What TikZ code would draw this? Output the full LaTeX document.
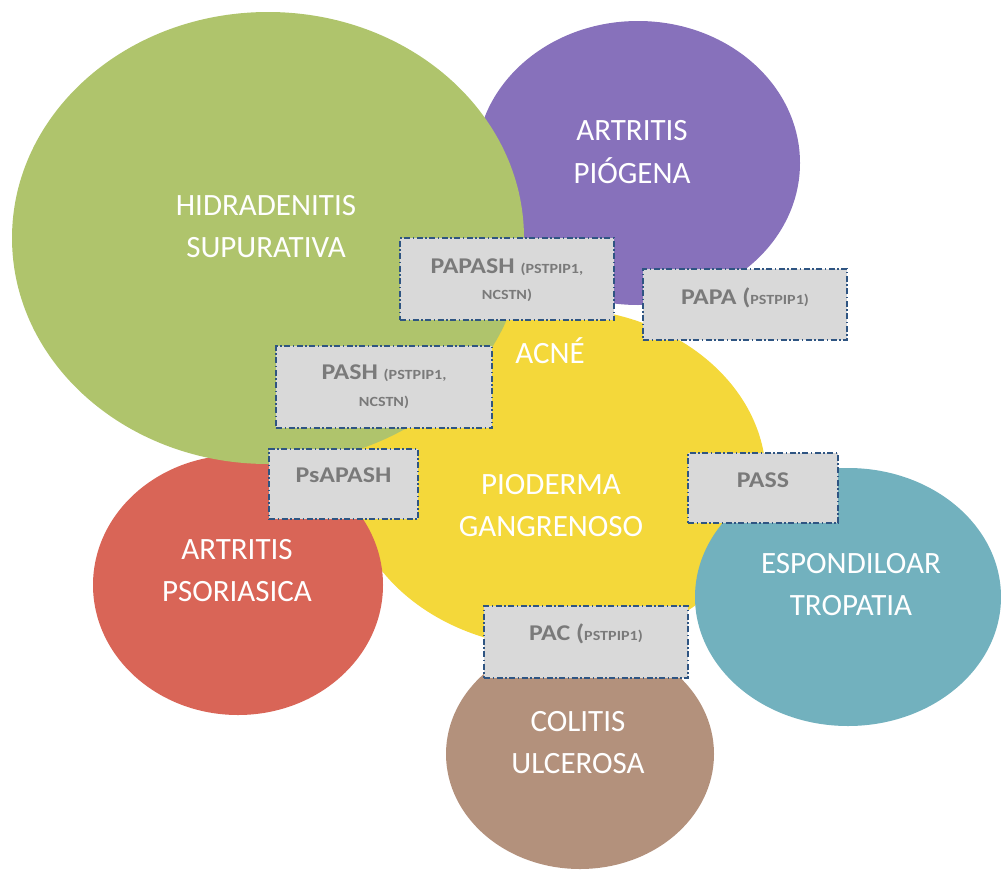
\documentclass[tikz,border=0pt]{standalone}
\usepackage{fontspec}
\setmainfont{Carlito}
\newfontfamily\boxfont[FakeStretch=1.15]{Carlito}
\usetikzlibrary{shapes.geometric}
\definecolor{cgreen}{RGB}{175,196,108}
\definecolor{cpurple}{RGB}{135,113,187}
\definecolor{cyellow}{RGB}{244,216,58}
\definecolor{cred}{RGB}{217,101,87}
\definecolor{cteal}{RGB}{114,177,190}
\definecolor{cbrown}{RGB}{179,145,124}
\definecolor{boxgray}{RGB}{217,217,217}
\definecolor{boxblue}{RGB}{47,85,130}
\definecolor{tagtextc}{RGB}{122,122,122}
\newcommand\smtag{\fontsize{14}{16}\selectfont}
\begin{document}
\begin{tikzpicture}[x=1pt,y=-1pt,
  blob/.style={ellipse, inner sep=0pt, draw=none},
  lbl/.style={text=white, font=\fontsize{31}{36}\selectfont, anchor=base, inner sep=0pt},
  tag/.style={fill=boxgray, draw=boxblue, line width=1.4pt, dash pattern=on 6pt off 2.5pt on 1.5pt off 2.5pt, inner sep=0pt},
  tagtext/.style={text=tagtextc, font=\boxfont\bfseries\fontsize{22.5}{25}\selectfont, anchor=base, inner sep=0pt},
  small/.style={font=\boxfont\bfseries\smtag}]
\useasboundingbox (0,0) rectangle (1001,870);
% circles
\node[blob, fill=cpurple, minimum width=324pt, minimum height=284pt] (purple) at (638,163) {};
\node[blob, fill=cyellow, minimum width=418pt, minimum height=340pt] (yellow) at (557,478) {};
\node[blob, fill=cred, minimum width=290pt, minimum height=260pt] (red) at (238,585) {};
\node[blob, fill=cteal, minimum width=306pt, minimum height=258pt] (teal) at (848,597) {};
\node[blob, fill=cbrown, minimum width=268pt, minimum height=230pt] (brown) at (580,754) {};
\node[blob, fill=cgreen, minimum width=512pt, minimum height=452pt] (green) at (268,238) {};
% main labels
\node[lbl] (hs1) at (266,215) {HIDRADENITIS};
\node[lbl] (hs2) at (266,257) {SUPURATIVA};
\node[lbl] (ap1) at (632,140) {ARTRITIS};
\node[lbl] (ap2) at (632,183) {PIÓGENA};
\node[lbl] (acne) at (550,363) {ACNÉ};
\node[lbl] (pg1) at (551,494) {PIODERMA};
\node[lbl] (pg2) at (551,536) {GANGRENOSO};
\node[lbl] (aps1) at (237,559) {ARTRITIS};
\node[lbl] (aps2) at (237,601) {PSORIASICA};
\node[lbl] (esp1) at (851,573) {ESPONDILOAR};
\node[lbl] (esp2) at (851,615) {TROPATIA};
\node[lbl] (cu1) at (578,731) {COLITIS};
\node[lbl] (cu2) at (578,773) {ULCEROSA};
% boxes
\node[tag, minimum width=214pt, minimum height=82pt] (papash) at (507,279) {};
\node[tag, minimum width=204pt, minimum height=71pt] (papa) at (745,304.5) {};
\node[tag, minimum width=216pt, minimum height=82pt] (pash) at (384,387) {};
\node[tag, minimum width=149pt, minimum height=70pt] (psapash) at (343.5,484) {};
\node[tag, minimum width=150pt, minimum height=70pt] (pass) at (763,488) {};
\node[tag, minimum width=204pt, minimum height=72pt] (pac) at (586,642) {};
% box texts
\node[tagtext] (papasht1) at ([yshift=6pt]papash.center) {PAPASH {\smtag (PSTPIP1,}};
\node[tagtext, small] (papasht2) at ([yshift=-20pt]papash.center) {NCSTN)};
\node[tagtext] (papat) at ([yshift=0pt]papa.center) {PAPA ({\smtag PSTPIP1)}};
\node[tagtext] (pasht1) at ([yshift=8pt]pash.center) {PASH {\smtag (PSTPIP1,}};
\node[tagtext, small] (pasht2) at ([yshift=-19pt]pash.center) {NCSTN)};
\node[tagtext] (psapasht) at ([yshift=2pt]psapash.center) {PsAPASH};
\node[tagtext] (passt) at ([yshift=1pt]pass.center) {PASS};
\node[tagtext] (pact) at ([yshift=2pt]pac.center) {PAC ({\smtag PSTPIP1)}};
\end{tikzpicture}
\end{document}
